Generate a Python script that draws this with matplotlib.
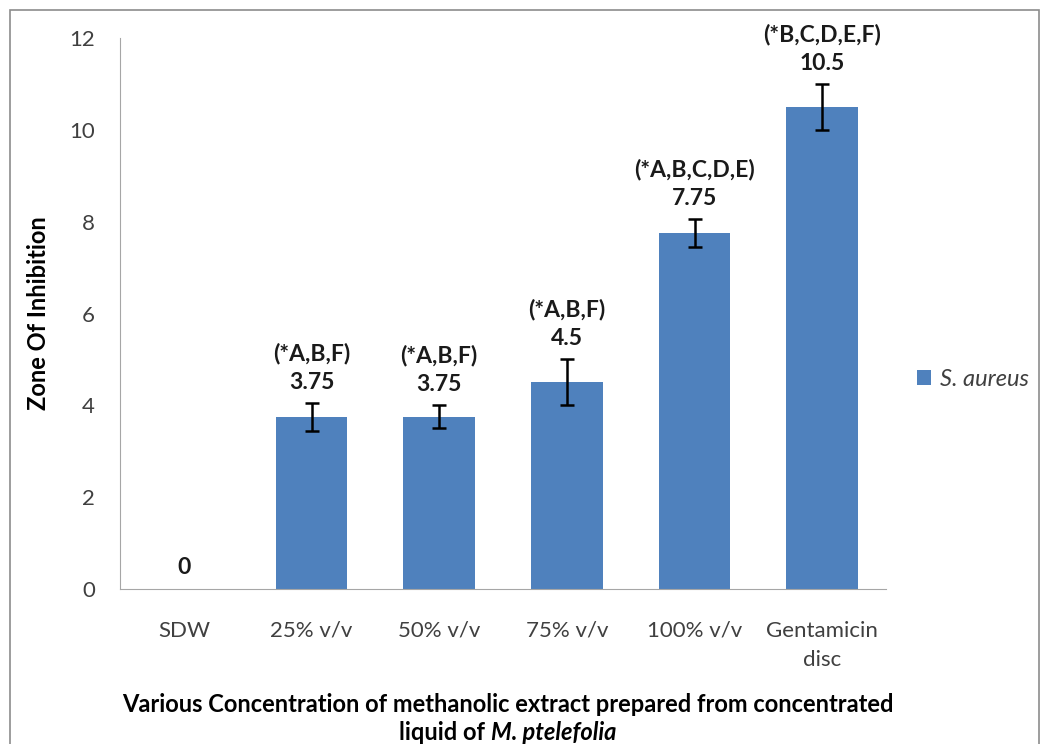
import matplotlib
matplotlib.use("Agg")
import matplotlib.pyplot as plt
from matplotlib.patches import Rectangle

# data
categorias = ["SDW", "25% v/v", "50% v/v", "75% v/v", "100% v/v", "Gentamicin\ndisc"]
valores = [0, 3.75, 3.75, 4.5, 7.75, 10.5]
erros = [0, 0.3, 0.25, 0.5, 0.3, 0.5]
rotulos = ["", "(*A,B,F)", "(*A,B,F)", "(*A,B,F)", "(*A,B,C,D,E)", "(*B,C,D,E,F)"]
rotulos_valor = ["0", "3.75", "3.75", "4.5", "7.75", "10.5"]

plt.rcParams['font.family'] = ['Lato', 'DejaVu Sans']

fig = plt.figure(figsize=(10.42, 7.44), dpi=100)
ax = fig.add_axes([120 / 1042, 1 - 589 / 744, 766 / 1042, 551 / 744])

# border around the chart
fig.patches.append(Rectangle((10 / 1042, -0.01), 1029 / 1042, 1 - 10 / 744 + 0.01,
                             transform=fig.transFigure, fill=False,
                             edgecolor='#8c8c8c', linewidth=1.2))

x = range(len(categorias))
ax.bar(x, valores, width=0.56, color='#4f81bd', label='S. aureus')
ax.errorbar(list(x)[1:], valores[1:], yerr=erros[1:], fmt='none',
            ecolor='black', elinewidth=1.8, capsize=5, capthick=1.8)

# annotations above the bars
for i, v in enumerate(valores):
    topo = v + erros[i]
    if rotulos[i]:
        ax.text(i, topo + 0.22, rotulos_valor[i], ha='center', va='bottom',
                fontsize=16.5, fontweight='bold', color='#1a1a1a')
        ax.text(i, topo + 0.85, rotulos[i], ha='center', va='bottom',
                fontsize=16.5, fontweight='bold', color='#1a1a1a')
    else:
        ax.text(i, v + 0.25, rotulos_valor[i], ha='center', va='bottom',
                fontsize=16.5, fontweight='bold', color='#1a1a1a')

ax.set_xlim(-0.5, 5.5)
ax.set_ylim(0, 12)
ax.set_yticks([0, 2, 4, 6, 8, 10, 12])
ax.set_xticks(list(x))
ax.set_xticklabels(categorias, fontsize=16, linespacing=1.55)
ax.tick_params(axis='y', labelsize=16, length=0, pad=18, labelcolor='#404040')
ax.tick_params(axis='x', length=0, pad=23, labelcolor='#404040')
for lado in ['top', 'right']:
    ax.spines[lado].set_visible(False)
for lado in ['left', 'bottom']:
    ax.spines[lado].set_color('#a6a6a6')

ax.set_ylabel('Zone Of Inhibition', fontsize=17, fontweight='bold', labelpad=14)

fig.text(508 / 1042, 1 - 705 / 744,
         'Various Concentration of methanolic extract prepared from concentrated',
         ha='center', va='center', fontsize=17, fontweight='bold')

# second line: plain part + italic species name
fig.canvas.draw()
r = fig.canvas.get_renderer()
t1 = fig.text(0, 1 - 733 / 744, 'liquid of ', ha='left', va='center',
              fontsize=17, fontweight='bold')
t2 = fig.text(0, 1 - 733 / 744, 'M. ptelefolia', ha='left', va='center',
              fontsize=17, fontweight='bold', fontstyle='italic')
w1 = t1.get_window_extent(r).width
w2 = t2.get_window_extent(r).width
x0 = 508 - (w1 + w2) / 2
t1.set_x(x0 / 1042)
t2.set_x((x0 + w1) / 1042)

leg = ax.legend(loc='center left', bbox_to_anchor=(1.04, 0.38), frameon=False,
                fontsize=17, handlelength=0.6, handleheight=0.6, handletextpad=0.4,
                borderpad=0, borderaxespad=0)
for t in leg.get_texts():
    t.set_fontstyle('italic')
    t.set_color('#404040')

fig.savefig('out.png', dpi=100)
